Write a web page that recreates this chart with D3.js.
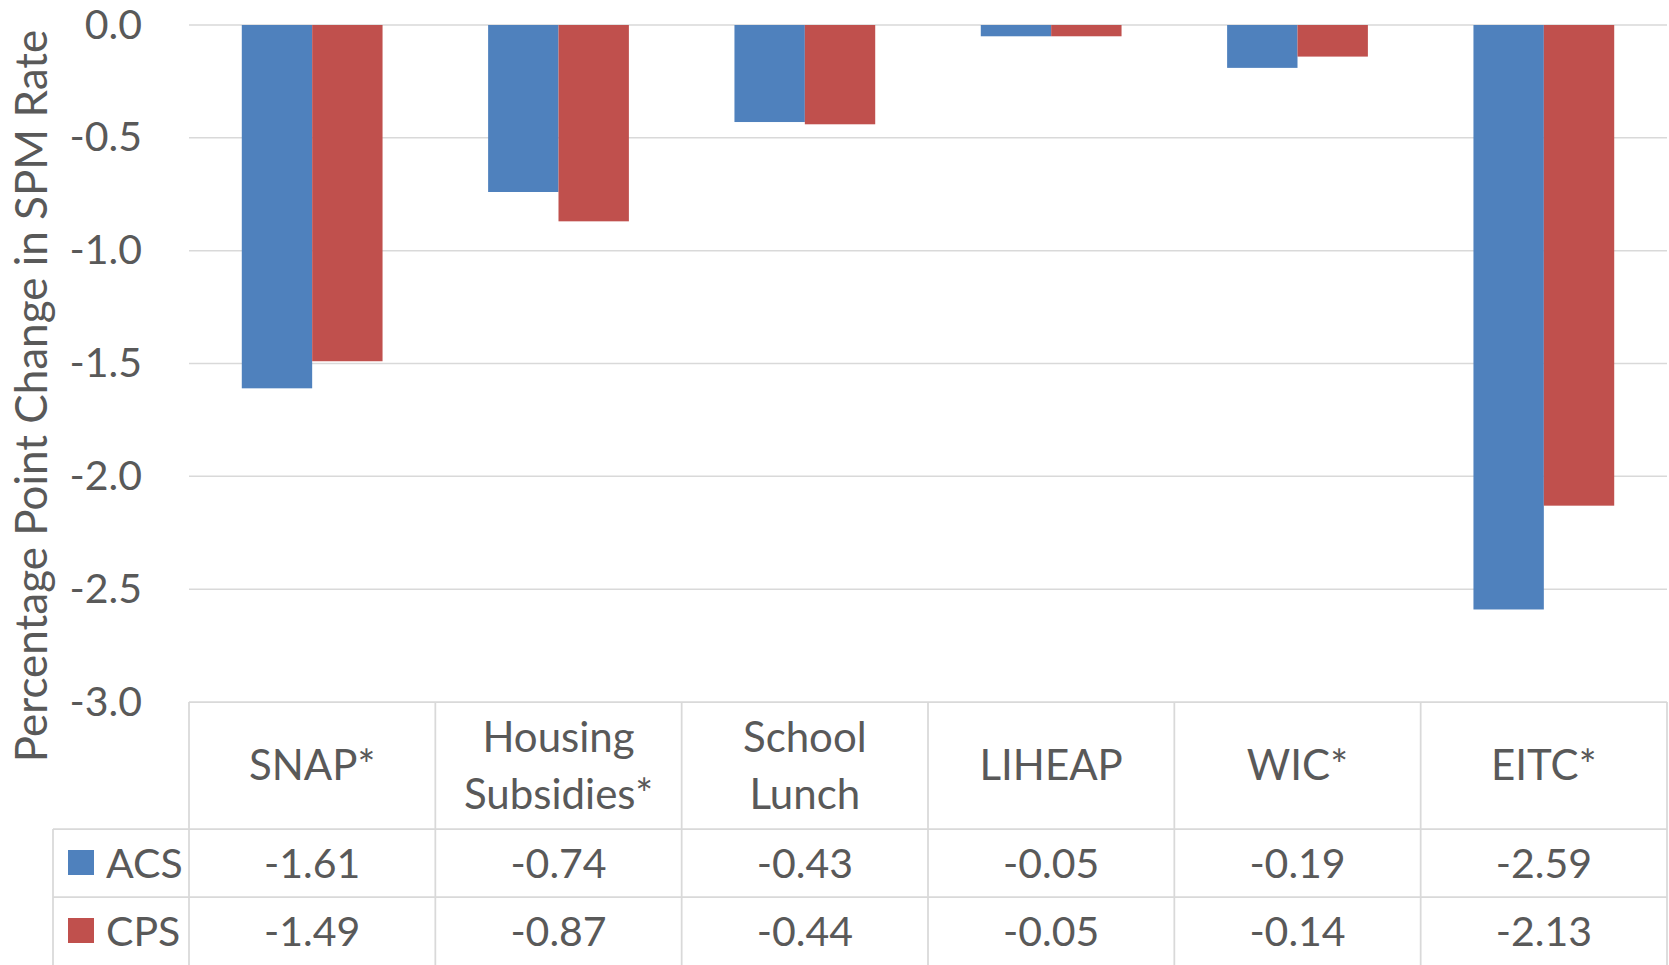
<!DOCTYPE html>
<html lang="en">
<head>
    <meta charset="UTF-8">
    <title>Percentage Point Change in SPM Rate</title>
    <script src="https://cdnjs.cloudflare.com/ajax/libs/d3/7.8.5/d3.min.js"></script>
    <style>
        body {
            margin: 0;
            background-color: #ffffff;
            overflow: hidden;
        }
        svg text {
            font-family: Lato, 'Open Sans', sans-serif;
            fill: #595959;
        }
        .grid line, .table-line {
            stroke: #d9d9d9;
        }
    </style>
</head>
<body>
    <div id="chart"></div>

    <script>
        // data (values are shown in the data table)
        const categories = ["SNAP*", "Housing Subsidies*", "School Lunch", "LIHEAP", "WIC*", "EITC*"];
        const categoryLines = [["SNAP*"], ["Housing", "Subsidies*"], ["School", "Lunch"], ["LIHEAP"], ["WIC*"], ["EITC*"]];
        const seriesNames = ["ACS", "CPS"];
        const acsValues = [-1.61, -0.74, -0.43, -0.05, -0.19, -2.59];
        const cpsValues = [-1.49, -0.87, -0.44, -0.05, -0.14, -2.13];
        const yTicks = [0, -0.5, -1.0, -1.5, -2.0, -2.5, -3.0];
        const yTitle = "Percentage Point Change in SPM Rate";

        const seriesColors = { ACS: "#4f81bd", CPS: "#c0504d" };

        const width = 1669;
        const height = 965;
        const plot = { left: 189, right: 1667, top: 25, bottom: 702 };
        const rowHeader = 127;   // header row of the data table
        const rowHeight = 68;    // value rows
        const legendLeft = 53;
        const fontSize = 41;
        const headerFontSize = 42;
        const titleFontSize = 44;

        const seriesValues = { ACS: acsValues, CPS: cpsValues };
        const rows = categories.map((c, i) => ({
            category: c,
            lines: categoryLines[i],
            values: seriesNames.map(s => ({ series: s, value: seriesValues[s][i] }))
        }));

        const svg = d3.select("#chart")
            .append("svg")
            .attr("width", width)
            .attr("height", height);

        const x0 = d3.scaleBand()
            .domain(categories)
            .range([plot.left, plot.right])
            .padding(0);

        // excel gap width 150%
        const x1 = d3.scaleBand()
            .domain(seriesNames)
            .range([0, x0.bandwidth()])
            .paddingInner(0)
            .paddingOuter(0.75);

        const y = d3.scaleLinear()
            .domain([0, -3])
            .range([plot.top, plot.bottom]);

        // gridlines (the -3.0 line is the table's top border)
        svg.append("g")
            .attr("class", "grid")
            .selectAll("line")
            .data(yTicks.filter(t => t > -3))
            .join("line")
            .attr("x1", plot.left)
            .attr("x2", plot.right)
            .attr("y1", d => y(d))
            .attr("y2", d => y(d))
            .attr("stroke-width", 1.5);

        // y axis labels
        const yAxis = d3.axisLeft(y)
            .tickValues(yTicks)
            .tickSize(0)
            .tickPadding(47)
            .tickFormat(d => d.toFixed(1));

        svg.append("g")
            .attr("transform", `translate(${plot.left},0)`)
            .call(yAxis)
            .call(g => g.select(".domain").remove())
            .call(g => g.selectAll("text")
                .attr("font-size", fontSize)
                .attr("font-family", null)
                .attr("fill", null));

        svg.append("text")
            .attr("transform", `translate(47,${(32 + 760) / 2}) rotate(-90)`)
            .attr("text-anchor", "middle")
            .attr("font-size", titleFontSize)
            .text(yTitle);

        // bars
        svg.append("g")
            .selectAll("g")
            .data(rows)
            .join("g")
            .attr("transform", d => `translate(${x0(d.category)},0)`)
            .selectAll("rect")
            .data(d => d.values)
            .join("rect")
            .attr("x", d => x1(d.series))
            .attr("width", x1.bandwidth())
            .attr("y", d => y(Math.max(0, d.value)))
            .attr("height", d => Math.abs(y(d.value) - y(0)))
            .attr("fill", d => seriesColors[d.series]);

        // data table
        const table = svg.append("g");
        const headerTop = plot.bottom;
        const rowTops = seriesNames.map((s, i) => headerTop + rowHeader + i * rowHeight);

        // horizontal lines
        table.append("line")
            .attr("class", "table-line")
            .attr("x1", plot.left).attr("x2", plot.right)
            .attr("y1", headerTop).attr("y2", headerTop);
        table.selectAll(".row-line")
            .data(rowTops)
            .join("line")
            .attr("class", "table-line")
            .attr("x1", legendLeft).attr("x2", plot.right)
            .attr("y1", d => d).attr("y2", d => d);
        table.selectAll("line").attr("stroke-width", 1.75);

        // vertical lines
        const colEdges = categories.map(c => x0(c)).concat([plot.right]);
        table.selectAll(".col-line")
            .data(colEdges)
            .join("line")
            .attr("class", "table-line")
            .attr("x1", d => d).attr("x2", d => d)
            .attr("y1", headerTop).attr("y2", height)
            .attr("stroke-width", 1.75);
        table.append("line")
            .attr("class", "table-line")
            .attr("x1", legendLeft).attr("x2", legendLeft)
            .attr("y1", rowTops[0]).attr("y2", height)
            .attr("stroke-width", 1.75);

        // header labels
        const capHalf = fontSize * 0.36;
        const lineGap = 57;
        table.selectAll(".header")
            .data(rows)
            .join("text")
            .attr("class", "header")
            .attr("text-anchor", "middle")
            .attr("font-size", headerFontSize)
            .each(function(d) {
                const cx = x0(d.category) + x0.bandwidth() / 2;
                const cy = headerTop + rowHeader / 2 + capHalf - (d.lines.length - 1) * lineGap / 2;
                d3.select(this).selectAll("tspan")
                    .data(d.lines)
                    .join("tspan")
                    .attr("x", cx)
                    .attr("y", (l, i) => cy + i * lineGap)
                    .text(l => l);
            });

        // value rows with legend keys
        seriesNames.forEach((s, si) => {
            const cy = rowTops[si] + rowHeight / 2;
            table.append("rect")
                .attr("x", 68)
                .attr("y", cy - 13)
                .attr("width", 26)
                .attr("height", 25)
                .attr("fill", seriesColors[s]);
            table.append("text")
                .attr("x", 106)
                .attr("y", cy + capHalf)
                .attr("font-size", fontSize)
                .text(s);
            table.selectAll(`.val-${s}`)
                .data(rows)
                .join("text")
                .attr("class", `val-${s}`)
                .attr("x", d => x0(d.category) + x0.bandwidth() / 2)
                .attr("y", cy + capHalf)
                .attr("text-anchor", "middle")
                .attr("font-size", fontSize)
                .text(d => d.values[si].value.toFixed(2));
        });
    </script>
</body>
</html>
